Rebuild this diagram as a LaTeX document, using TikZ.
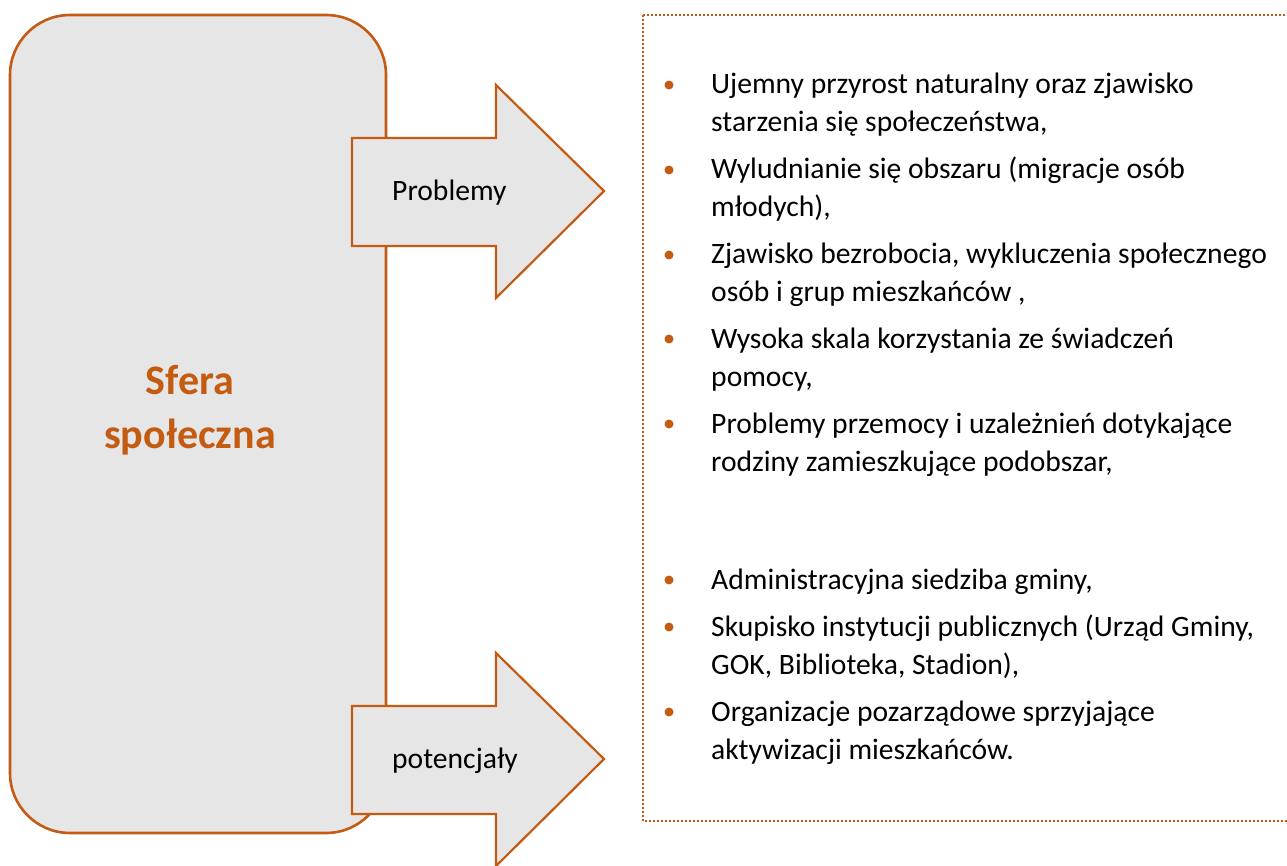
\documentclass[tikz,border=0pt]{standalone}
\usepackage{fontspec}
\setmainfont{Carlito}
\definecolor{cam}{HTML}{C55A11}
\definecolor{xam}{HTML}{E6E6E6}
\begin{document}
\begin{tikzpicture}[x=1pt, y=-1pt, line join=miter, font=\fontsize{29.6}{38}\selectfont,
	ramka/.style={draw=cam, line width=2.6pt, fill=xam},
	strzalka/.style={draw=cam, line width=2.2pt, fill=xam},
	podpis/.style={anchor=west, inner sep=0pt},
	punkt/.style={anchor=base west, inner sep=0pt, align=left}]
	\useasboundingbox (0,0) rectangle (1287,866);
	\draw[ramka, rounded corners=60pt] (10,15) rectangle (386,833);
	\node[font=\fontsize{42}{54}\selectfont\bfseries, text=cam, align=center] (sfera) at (190,410) {Sfera\\społeczna};
	\foreach \y/\ten/\chu in {0/problemy/Problemy, 568/potencjaly/potencjały}{
		\draw[strzalka] (352,138+\y) -- (496,138+\y) -- (496,85+\y) -- (604,191+\y) -- (496,298+\y) -- (496,246+\y) -- (352,246+\y) -- cycle;% mũi tên
		\node[podpis] (\ten) at (392,193+\y) {\chu};
	}
	\draw[cam, line width=2pt, dash pattern=on 2pt off 2pt] (643,15) rectangle (1300,821);% khung chấm
	\foreach \y/\n/\chu [count=\i] in {94/1/{Ujemny przyrost naturalny oraz zjawisko\\starzenia się społeczeństwa,},
		179/1/{Wyludnianie się obszaru (migracje osób\\młodych),},
		264/1/{Zjawisko bezrobocia, wykluczenia społecznego\\osób i grup mieszkańców ,},
		348/1/{Wysoka skala korzystania ze świadczeń\\pomocy,},
		433/1/{Problemy przemocy i uzależnień dotykające\\rodziny zamieszkujące podobszar,},
		589/0/{Administracyjna siedziba gminy,},
		636/1/{Skupisko instytucji publicznych (Urząd Gminy,\\GOK, Biblioteka, Stadion),},
		721/1/{Organizacje pozarządowe sprzyjające\\aktywizacji mieszkańców.}}{
		\fill[cam] (669,\y-9) circle (4.5pt);
		\node[punkt] (muc\i) at (711,\y+38*\n) {\chu};% neo ở dòng cuối
	}
\end{tikzpicture}
\end{document}
